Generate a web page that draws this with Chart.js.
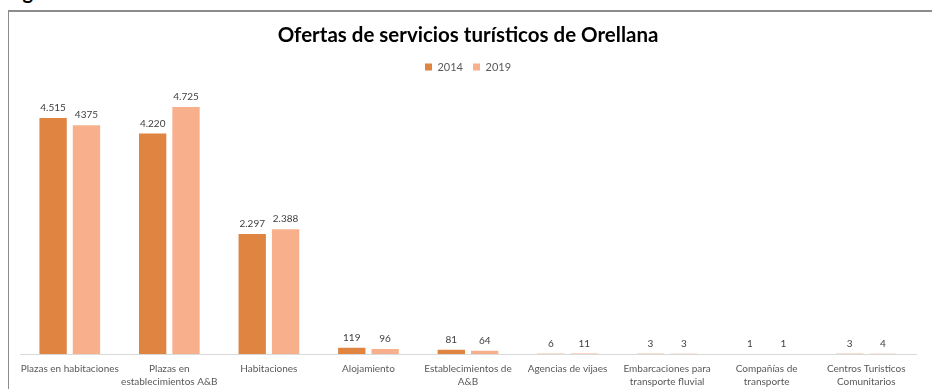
<!DOCTYPE html>
<html>
<head>
<meta charset="utf-8">
<script src="https://cdn.jsdelivr.net/npm/chart.js"></script>
<style>
  html, body { margin: 0; padding: 0; background: #fff; overflow: hidden; }
  #caption {
    position: absolute; left: 6px; top: -21px;
    font: bold 20px Lato, sans-serif; color: #000; white-space: nowrap;
  }
  #frame {
    position: absolute; left: 8px; top: 10px; width: 940px; height: 400px;
    border-left: 1px solid #8c8c8c; border-top: 2px solid #8c8c8c;
  }
  #wrap { position: absolute; left: 0; top: 0; width: 932px; height: 389px; }
</style>
</head>
<body>
<div id="caption">Figura 3. Ofertas de servicios turísticos de Orellana</div>
<div id="frame"></div>
<div id="wrap"><canvas id="chart" width="932" height="389"></canvas></div>
<script>
// Ofertas de servicios turísticos de Orellana, 2014 vs 2019

const categories = [
    'Plazas en habitaciones',
    ['Plazas en', 'establecimientos A&B'],
    'Habitaciones',
    'Alojamiento',
    ['Establecimientos de', 'A&B'],
    'Agencias de vijaes',
    ['Embarcaciones para', 'transporte fluvial'],
    ['Compañías de', 'transporte'],
    ['Centros Turisticos', 'Comunitarios']
];
const values2014 = [4515, 4220, 2297, 119, 81, 6, 3, 1, 3];
const values2019 = [4375, 4725, 2388, 96, 64, 11, 3, 1, 4];
// labels exactly as printed on the original chart
const labels2014 = ['4.515', '4.220', '2.297', '119', '81', '6', '3', '1', '3'];
const labels2019 = ['4375', '4.725', '2.388', '96', '64', '11', '3', '1', '4'];

const FONT = 'Lato, sans-serif';

// draw the value above every bar
const valueLabels = {
    id: 'valueLabels',
    afterDatasetsDraw(chart) {
        const ctx = chart.ctx;
        const texts = [labels2014, labels2019];
        ctx.save();
        ctx.font = '10px ' + FONT;
        ctx.fillStyle = '#404040';
        ctx.textAlign = 'center';
        ctx.textBaseline = 'bottom';
        chart.data.datasets.forEach((ds, i) => {
            chart.getDatasetMeta(i).data.forEach((bar, j) => {
                ctx.fillText(texts[i][j], bar.x, bar.y - 5);
            });
        });
        ctx.restore();
    }
};

// a bit more room under the legend
const legendGap = {
    id: 'legendGap',
    beforeInit(chart) {
        const fit = chart.legend.fit;
        chart.legend.fit = function () {
            fit.bind(chart.legend)();
            this.height += 10;
        };
    }
};

new Chart(document.getElementById('chart'), {
    type: 'bar',
    data: {
        labels: categories,
        datasets: [
            { label: '2014', data: values2014, backgroundColor: '#df8441' },
            { label: '2019', data: values2019, backgroundColor: '#f8b08c' }
        ]
    },
    options: {
        responsive: false,
        animation: false,
        categoryPercentage: 0.67,
        barPercentage: 0.82,
        layout: { padding: { left: 20, right: 16, top: 23, bottom: -7 } },
        plugins: {
            title: {
                display: true,
                text: 'Ofertas de servicios turísticos de Orellana',
                color: '#000',
                font: { family: FONT, size: 20.5, weight: 'bold' },
                padding: { top: 0, bottom: 4 }
            },
            legend: {
                display: true,
                labels: {
                    color: '#595959',
                    font: { family: FONT, size: 11 },
                    boxWidth: 7, boxHeight: 7, padding: 10
                }
            },
            tooltip: { enabled: false }
        },
        scales: {
            x: {
                grid: { display: false, drawTicks: false },
                border: { color: '#d9d9d9', width: 1 },
                ticks: {
                    color: '#595959',
                    font: { family: FONT, size: 10, lineHeight: 1.3 },
                    padding: 8,
                    maxRotation: 0,
                    autoSkip: false
                }
            },
            y: {
                display: false,
                beginAtZero: true,
                max: 5000
            }
        }
    },
    plugins: [valueLabels, legendGap]
});
</script>
</body>
</html>
